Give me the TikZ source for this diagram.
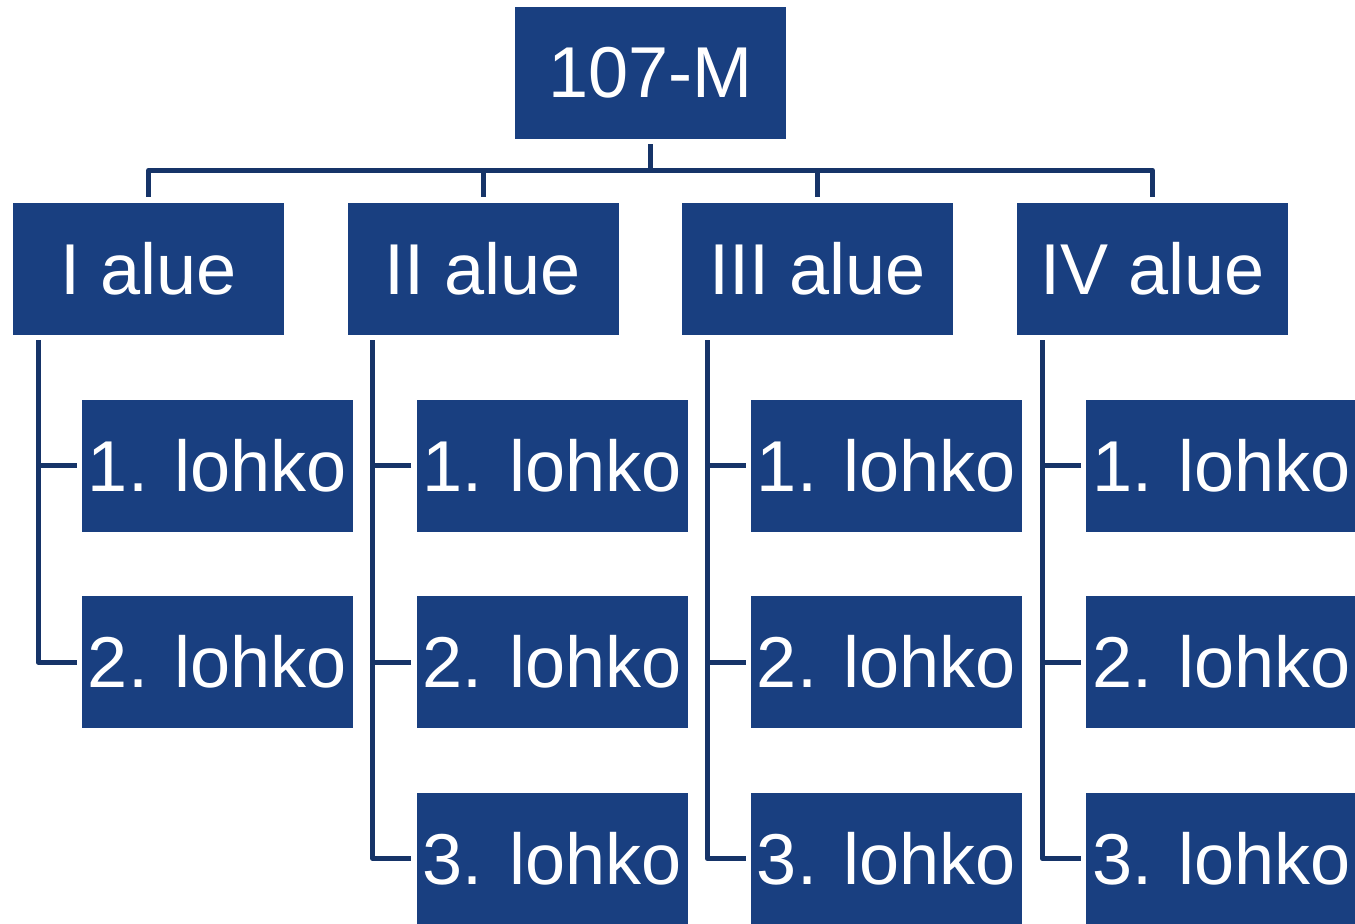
\documentclass[tikz,border=0pt]{standalone}
\usepackage{fontspec}
\setmainfont{Liberation Sans}
\usepackage{tikz}
\usetikzlibrary{calc,positioning}
\definecolor{boxblue}{RGB}{25,63,128}
\definecolor{linkblue}{RGB}{22,52,104}
\tikzstyle{orgbox} = [rectangle, minimum width=5.42cm, minimum height=2.64cm, inner sep=0pt, text centered, fill=boxblue, text=white, font=\fontsize{41}{49}\selectfont]
\tikzstyle{link} = [draw=linkblue, line width=0.1cm, line join=round]

\begin{document}
\begin{tikzpicture}[node distance=3.93cm]
	\useasboundingbox (0,0) rectangle (27.1,-18.46);
	\node (top) [orgbox] at (13.01,-1.46) {107-M};
	% alueet
	\node (a1) [orgbox] at (2.97,-5.38) {I alue};
	\node (a2) [orgbox] at (9.66,-5.38) {II alue};
	\node (a3) [orgbox] at (16.35,-5.38) {III alue};
	\node (a4) [orgbox] at (23.05,-5.38) {IV alue};
	% lohkot
	\node (a1l1) [orgbox, below of=a1, xshift=1.38cm] {1. lohko};
	\node (a1l2) [orgbox, below of=a1l1] {2. lohko};
	\node (a2l1) [orgbox, below of=a2, xshift=1.38cm] {1. lohko};
	\node (a2l2) [orgbox, below of=a2l1] {2. lohko};
	\node (a2l3) [orgbox, below of=a2l2] {3. lohko};
	\node (a3l1) [orgbox, below of=a3, xshift=1.38cm] {1. lohko};
	\node (a3l2) [orgbox, below of=a3l1] {2. lohko};
	\node (a3l3) [orgbox, below of=a3l2] {3. lohko};
	\node (a4l1) [orgbox, below of=a4, xshift=1.38cm] {1. lohko};
	\node (a4l2) [orgbox, below of=a4l1] {2. lohko};
	\node (a4l3) [orgbox, below of=a4l2] {3. lohko};
	% ylaosa
	\coordinate (bus) at ($(top.south)+(0,-0.62)$);
	\draw [link] ([yshift=-0.1cm]top.south) -- (bus);
	\draw [link] ([yshift=0.12cm]a1.north) |- (bus) -| ([yshift=0.12cm]a4.north);
	\draw [link] ([yshift=0.12cm]a2.north) -- (a2 |- bus);
	\draw [link] ([yshift=0.12cm]a3.north) -- (a3 |- bus);
	% sivuviivat
	\draw [link] ([xshift=0.51cm, yshift=-0.1cm]a1.south west) |- ([xshift=-0.1cm]a1l2.west);
	\draw [link] ([xshift=-0.1cm]a1l1.west) -- ($(a1.west |- a1l1.west)+(0.51,0)$);
	\draw [link] ([xshift=0.51cm, yshift=-0.1cm]a2.south west) |- ([xshift=-0.1cm]a2l3.west);
	\draw [link] ([xshift=-0.1cm]a2l1.west) -- ($(a2.west |- a2l1.west)+(0.51,0)$);
	\draw [link] ([xshift=-0.1cm]a2l2.west) -- ($(a2.west |- a2l2.west)+(0.51,0)$);
	\draw [link] ([xshift=0.51cm, yshift=-0.1cm]a3.south west) |- ([xshift=-0.1cm]a3l3.west);
	\draw [link] ([xshift=-0.1cm]a3l1.west) -- ($(a3.west |- a3l1.west)+(0.51,0)$);
	\draw [link] ([xshift=-0.1cm]a3l2.west) -- ($(a3.west |- a3l2.west)+(0.51,0)$);
	\draw [link] ([xshift=0.51cm, yshift=-0.1cm]a4.south west) |- ([xshift=-0.1cm]a4l3.west);
	\draw [link] ([xshift=-0.1cm]a4l1.west) -- ($(a4.west |- a4l1.west)+(0.51,0)$);
	\draw [link] ([xshift=-0.1cm]a4l2.west) -- ($(a4.west |- a4l2.west)+(0.51,0)$);
\end{tikzpicture}
\end{document}
